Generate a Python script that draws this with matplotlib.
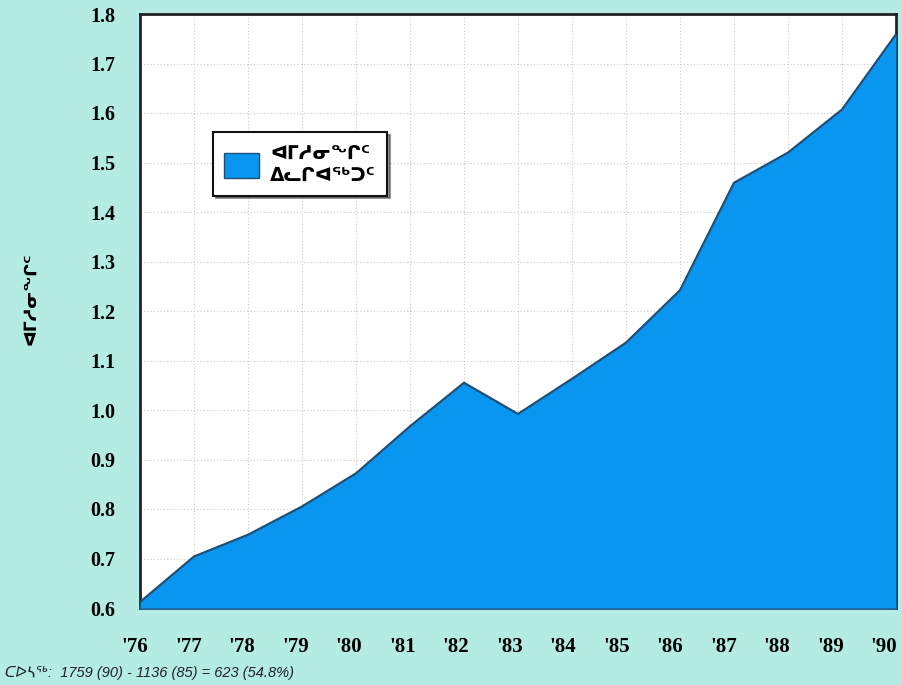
import matplotlib
matplotlib.use("Agg")
import matplotlib.pyplot as plt
from matplotlib.patches import Patch
from matplotlib.transforms import ScaledTranslation

years = ["'76", "'77", "'78", "'79", "'80", "'81", "'82", "'83",
         "'84", "'85", "'86", "'87", "'88", "'89", "'90"]
# thousands
values = [0.612, 0.704, 0.748, 0.805, 0.872, 0.967, 1.055, 0.992,
          1.063, 1.136, 1.242, 1.459, 1.52, 1.607, 1.759]
yticks = [0.6, 0.7, 0.8, 0.9, 1.0, 1.1, 1.2, 1.3, 1.4, 1.5, 1.6, 1.7, 1.8]

legend_label = "ᐊᒥᓱᓂᖏᑦ\nᐃᓚᒋᐊᖅᑐᑦ"
y_label = "ᐊᒥᓱᓂᖏᑦ"
note = "ᑕᐅᓴᖅ:  1759 (90) - 1136 (85) = 623 (54.8%)"

bg = "#b4ece4"
blue = "#0896f0"

fig = plt.figure(figsize=(9.03, 6.85), dpi=100, facecolor=bg)
ax = fig.add_axes([140 / 903, 1 - 608 / 685, 756 / 903, 594 / 685])
ax.set_facecolor("white")

x = list(range(len(years)))
ax.fill_between(x, 0.6, values, color=blue, zorder=3, linewidth=0)
ax.plot(x, values, color="#1b4f78", lw=1.6, zorder=4)

ax.set_xlim(0, len(years) - 1)
ax.set_ylim(0.6, 1.8)
ax.set_yticks(yticks)
ax.set_yticklabels([f"{v:.1f}" for v in yticks])
ax.set_xticks(x)
ax.set_xticklabels(years)

ax.grid(True, color="#c8c8c8", linestyle=(0, (1, 2)), lw=0.8, zorder=1)
ax.tick_params(axis="both", length=0)
ax.tick_params(axis="x", pad=21, labelsize=15)
ax.tick_params(axis="y", pad=36, labelsize=14.5)
for lab in ax.get_xticklabels() + ax.get_yticklabels():
    lab.set_fontfamily("Liberation Serif")
    lab.set_fontweight("bold")
for lab in ax.get_yticklabels():
    lab.set_horizontalalignment("left")

# year labels drift a little to the left of their ticks
n = len(years)
for i, lab in enumerate(ax.get_xticklabels()):
    dx = -(5 + 7 * i / (n - 1)) / 100
    lab.set_transform(lab.get_transform() + ScaledTranslation(dx, 0, fig.dpi_scale_trans))

for side in ax.spines.values():
    side.set_color("#222222")
    side.set_linewidth(2)
ax.spines["bottom"].set_color("#1b4f78")

ax.set_ylabel(y_label, fontfamily="DejaVu Sans", fontweight="bold", fontsize=12.5)
ax.yaxis.set_label_coords(-0.133, 0.52)

leg = ax.legend([Patch(facecolor=blue, edgecolor="#1b4f78")], [legend_label],
                loc="upper left", bbox_to_anchor=(0.0966, 0.801),
                prop={"family": "DejaVu Sans", "weight": "bold", "size": 13.5},
                frameon=True, fancybox=False, shadow={"color": "#333333"},
                handlelength=1.85, handleheight=1.7, borderpad=0.6,
                handletextpad=0.6, labelspacing=0.2, borderaxespad=0)
leg.get_frame().set_edgecolor("#111111")
leg.get_frame().set_linewidth(1.5)
leg.set_zorder(6)

fig.text(0.006, 0.012, note, fontsize=10.5, style="italic",
         fontfamily=["Liberation Sans", "DejaVu Sans"], color="#222222")

fig.savefig("out.png", dpi=100, facecolor=bg)
